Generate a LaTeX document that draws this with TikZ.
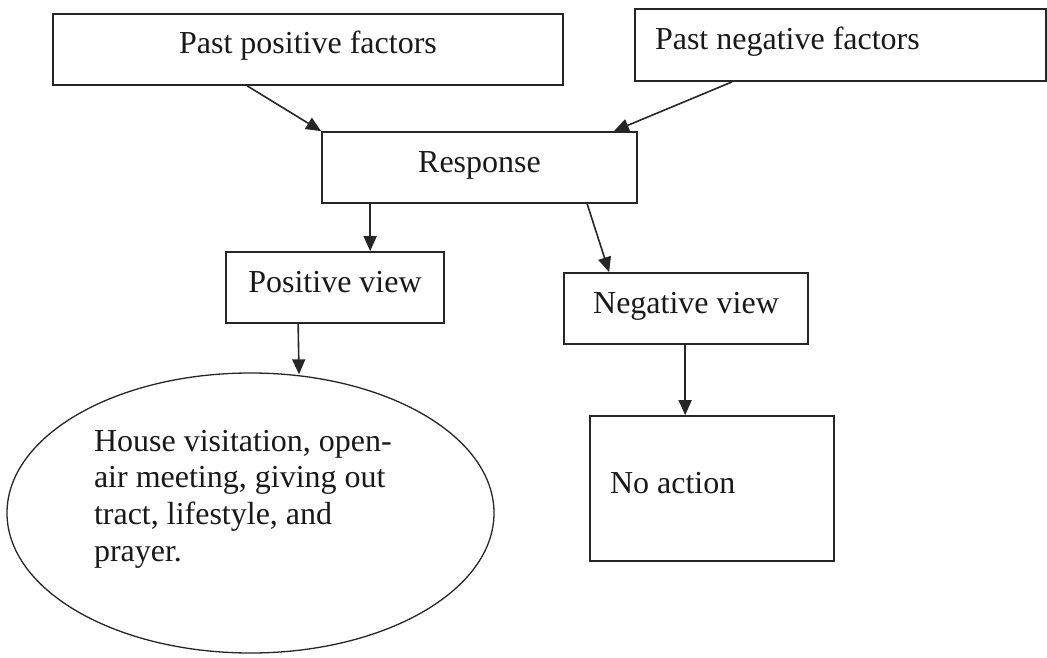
\documentclass[tikz,border=0pt]{standalone}
\usepackage{fontspec}
\setmainfont{Liberation Serif}
\usetikzlibrary{arrows.meta,shapes.geometric,calc}
\begin{document}
\begin{tikzpicture}[x=1pt,y=-1pt,
  txt/.style={font=\fontsize{32pt}{36.7pt}\selectfont, text=black!90},
  box/.style={txt, draw=black!85, line width=1.7pt, rectangle, inner sep=0pt,
    text height=22pt, text depth=13pt},
  oval/.style={txt, draw=black!85, line width=1.3pt, ellipse, inner sep=0pt},
  arr/.style={draw=black!85, line width=1.6pt, -{Triangle[length=15pt,width=13pt]}}]
\useasboundingbox (0,0) rectangle (1047,658);

\node[box, minimum width=510pt, minimum height=71pt] (pp) at (308,49.5) {Past positive factors};
\node[box, minimum width=411pt, minimum height=72pt] (pn) at (840.5,45) {\makebox[371pt][l]{Past negative factors}};
\node[box, minimum width=315pt, minimum height=71pt] (res) at (479.5,167.5) {Response};
\node[box, minimum width=218pt, minimum height=71pt] (pv) at (335,287.5) {Positive view};
\node[box, minimum width=244pt, minimum height=71pt] (nv) at (686,308.5) {Negative view};
\node[box, minimum width=244pt, minimum height=145pt] (na) at (712,488.5) {\makebox[204pt][l]{No action}};
\node[oval, minimum width=487pt, minimum height=280pt] (ell) at (250.5,513)
  {\parbox[c][166pt][t]{313pt}{\raggedright House visitation, open-\\air meeting, giving out\\tract, lifestyle, and\\prayer.}};

\draw[arr] ($(pp.south west)+(195,0)$) -- (res.north west);
\draw[arr] ($(pn.south west)+(98,0)$) -- ($(res.north east)+(-24,0)$);
\draw[arr] ($(res.south west)+(49,0)$) -- ($(pv.north west)+(145,0)$);
\draw[arr] ($(res.south west)+(266,0)$) -- ($(nv.north west)+(46,0)$);
\draw[arr] ($(pv.south west)+(73,0)$) -- ($(ell.north)+(48.5,2)$);
\draw[arr] ($(nv.south west)+(122,0)$) -- ($(na.north west)+(96,0)$);
\end{tikzpicture}
\end{document}
